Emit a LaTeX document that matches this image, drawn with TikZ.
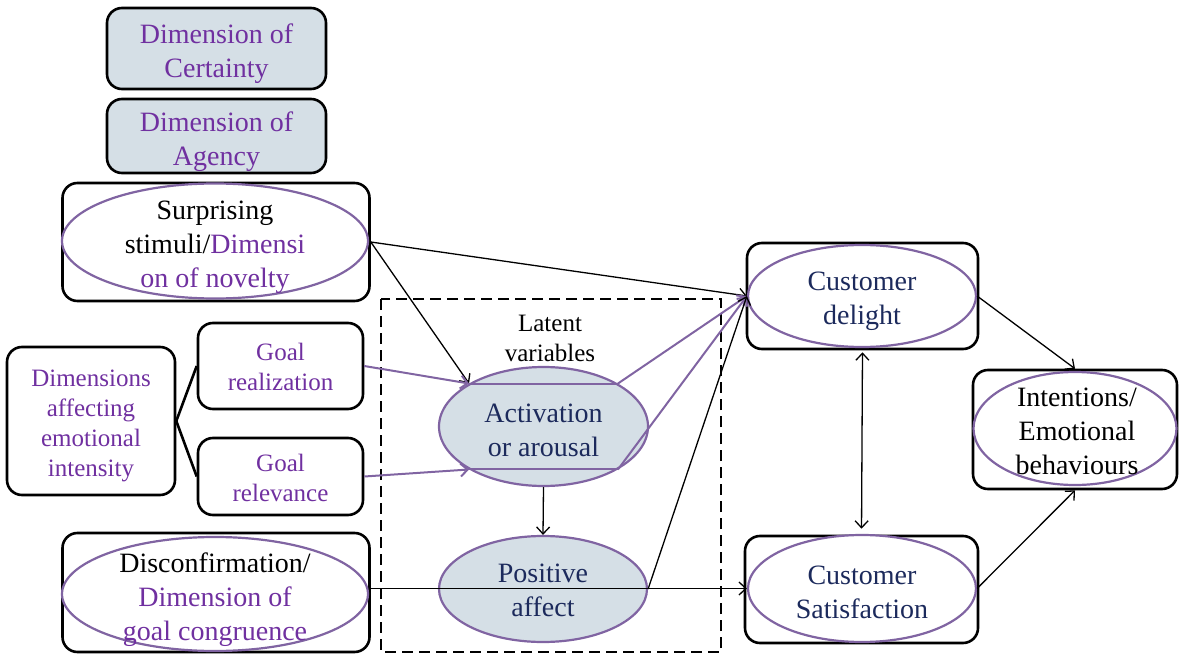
\documentclass[tikz,border=0pt]{standalone}
\usepackage{fontspec}
\setmainfont{Liberation Serif}
\usetikzlibrary{arrows.meta,shapes.geometric}
\definecolor{purptext}{RGB}{112,48,160}
\definecolor{ovalline}{RGB}{128,100,162}
\definecolor{navytext}{RGB}{28,42,92}
\definecolor{paleblue}{RGB}{213,223,230}
\tikzset{
  >={Straight Barb[length=7pt,width=13pt]},
  bigtext/.style={font=\fontsize{28}{34}\selectfont, align=center, inner sep=0pt},
  smalltext/.style={font=\fontsize{25}{30}\selectfont, align=center, inner sep=0pt},
  outerbox/.style={draw=black, line width=2.6pt, rounded corners=15pt, inner sep=0pt, align=center},
  ovalbox/.style={ellipse, draw=ovalline, line width=2.2pt, inner sep=0pt, fill=white},
  latent/.style={ellipse, draw=ovalline, line width=2.2pt, inner sep=0pt, fill=paleblue},
  thinarrow/.style={->, line width=1.3pt, black},
  purparrow/.style={->, line width=2pt, ovalline},
  purpline/.style={line width=2pt, ovalline},
  branch/.style={line width=2.6pt, black},
}
\begin{document}
\begin{tikzpicture}[x=1pt,y=-1pt]
\useasboundingbox (0,0) rectangle (1179,658);

% latent-variable frame
\draw[line width=2.8pt, dash pattern=on 11pt off 6pt] (381,299) rectangle (721,652);
\node[smalltext] (lat) at (550,338) {Latent\\variables};

% appraisal dimensions
\node[outerbox, fill=paleblue, minimum width=219pt, minimum height=81pt] (cert) at (216.5,48.5) {};
\node[bigtext, text=purptext] (certT) at (216.5,53.5) {Dimension of\\Certainty};
\node[outerbox, fill=paleblue, minimum width=219pt, minimum height=74pt] (agen) at (216.5,136) {};
\node[bigtext, text=purptext] (agenT) at (216.5,141.5) {Dimension of\\Agency};

\node[outerbox, minimum width=307pt, minimum height=118pt] (surB) at (216,242) {};
\node[ovalbox, minimum width=306pt, minimum height=115pt] (surE) at (215,241) {};
\node[bigtext] (surT) at (215,247) {Surprising\\stimuli/{\color{purptext}Dimensi}\\{\color{purptext}on of novelty}};

\node[outerbox, minimum width=168pt, minimum height=148pt] (dimB) at (91,421) {};
\node[smalltext, text=purptext] (dimT) at (91,425.5) {Dimensions\\affecting\\emotional\\intensity};
\node[outerbox, minimum width=165pt, minimum height=86pt] (goalR) at (280.5,366) {};
\node[smalltext, text=purptext] (goalRT) at (280.5,367) {Goal\\realization};
\node[outerbox, minimum width=165pt, minimum height=77pt] (goalV) at (280.5,476.5) {};
\node[smalltext, text=purptext] (goalVT) at (280.5,477.5) {Goal\\relevance};

\node[outerbox, minimum width=307pt, minimum height=119pt] (disB) at (216,592.5) {};
\node[ovalbox, minimum width=306pt, minimum height=114pt] (disE) at (215,594) {};
\node[bigtext] (disT) at (215,599.5) {Disconfirmation/\\{\color{purptext}Dimension of}\\{\color{purptext}goal congruence}};

% latent variables
\node[latent, minimum width=209pt, minimum height=119pt] (actE) at (543.5,426.5) {};
\node[bigtext, text=navytext] (actT) at (543.5,430.5) {Activation\\or arousal};
\node[latent, minimum width=208pt, minimum height=106pt] (posE) at (543,589) {};

% outcomes
\node[outerbox, minimum width=231pt, minimum height=106pt] (delB) at (862.5,296) {};
\node[ovalbox, minimum width=228pt, minimum height=102pt] (delE) at (862,296) {};
\node[bigtext, text=navytext] (delT) at (862,301) {Customer\\delight};

\node[outerbox, minimum width=233pt, minimum height=107pt] (satB) at (861.5,589.5) {};
\node[ovalbox, minimum width=228pt, minimum height=107pt] (satE) at (862,588.5) {};
\node[bigtext, text=navytext] (satT) at (862,592.5) {Customer\\Satisfaction};

\node[outerbox, minimum width=204pt, minimum height=119pt] (intB) at (1075,429.5) {};
\node[ovalbox, minimum width=203pt, minimum height=113pt] (intE) at (1075,428.5) {};
\node[bigtext] (intT) at (1077,431.5) {Intentions/\\Emotional\\behaviours};

% branching of the intensity dimensions
\draw[branch] (dimB.east) -- (goalR.west);
\draw[branch] (dimB.east) -- (goalV.west);

% paths into the latent variables
\draw[thinarrow] (surB.east) -- (actE.150);
\draw[purparrow] (goalR.east) -- (actE.150);
\draw[purparrow] (goalV.east) -- (actE.210);
\draw[purpline] (actE.150) -- (actE.30);
\draw[purpline] (actE.210) -- (actE.330);
\draw[thinarrow] (actE.south) -- (posE.north);

% paths into delight and satisfaction
\draw[thinarrow] (surB.east) -- (delE.west);
\draw[purparrow] (actE.30) -- (delE.west);
\draw[purparrow] (actE.330) -- (delE.west);
\draw[thinarrow] (posE.east) -- (delE.west);
\draw[thinarrow] (disB.east |- satE.west) -- (satE.west);
\node[bigtext, text=navytext] (posT) at (543,590.5) {Positive\\affect};
\draw[<->, line width=1.3pt, shorten <=2pt, shorten >=6pt] (delB.south) -- (satB.north);

% paths into intentions
\draw[thinarrow] (delE.east) -- (intB.north);
\draw[thinarrow] (satE.east) -- (intB.south);
\end{tikzpicture}
\end{document}
